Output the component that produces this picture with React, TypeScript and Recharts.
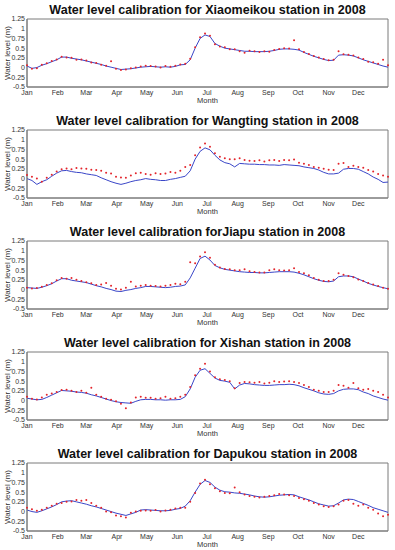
import React from 'react';
import {
  ComposedChart,
  Line,
  XAxis,
  YAxis,
  ReferenceArea,
} from 'recharts';

// day of year (2008), sampled every 5 days
const DAYS = [
  1, 6, 11, 16, 21, 26, 31, 36, 41, 46, 51, 56, 61, 66, 71, 76, 81, 86, 91, 96,
  101, 106, 111, 116, 121, 126, 131, 136, 141, 146, 151, 156, 161, 166, 171, 176, 181, 186, 191, 196,
  201, 206, 211, 216, 221, 226, 231, 236, 241, 246, 251, 256, 261, 266, 271, 276, 281, 286, 291, 296,
  301, 306, 311, 316, 321, 326, 331, 336, 341, 346, 351, 356, 361, 366,
];

const MONTH_TICKS = [1, 32, 61, 92, 122, 153, 183, 214, 245, 275, 306, 336];
const MONTH_LABELS = ['Jan', 'Feb', 'Mar', 'Apr', 'May', 'Jun', 'Jul', 'Aug', 'Sep', 'Oct', 'Nov', 'Dec'];
const Y_TICKS = [-0.5, -0.25, 0, 0.25, 0.5, 0.75, 1, 1.25];

const XIAOMEIKOU_SIM = [
  0.04, -0.02, 0.0, 0.06, 0.1, 0.15, 0.2,
  0.27, 0.27, 0.24, 0.22, 0.2,
  0.17, 0.14, 0.11, 0.08, 0.04, 0.01, -0.02,
  -0.05, -0.04, -0.03, -0.01, 0.01, 0.02,
  0.03, 0.02, 0.01, 0.02, 0.01, 0.03,
  0.07, 0.08, 0.2, 0.5, 0.75, 0.84,
  0.8, 0.62, 0.55, 0.5, 0.48, 0.46,
  0.44, 0.42, 0.42, 0.41, 0.41, 0.41,
  0.42, 0.44, 0.47, 0.48, 0.48, 0.47,
  0.45, 0.39, 0.34, 0.29, 0.25, 0.21,
  0.18, 0.19, 0.32, 0.33, 0.32, 0.3,
  0.25, 0.2, 0.16, 0.12, 0.08, 0.04, 0.01,
];
const XIAOMEIKOU_OBS = [
  0.06, -0.03, -0.02, 0.07, 0.11, 0.17, 0.21,
  0.28, 0.26, 0.25, 0.2, 0.21,
  0.18, 0.13, 0.12, 0.07, 0.05, 0.16, -0.03,
  -0.06, -0.05, -0.02, 0.0, 0.03, 0.05,
  0.04, 0.03, 0.0, 0.04, 0.02, 0.05,
  0.08, 0.1, 0.23, 0.52, 0.78, 0.88,
  0.82, 0.6, 0.54, 0.52, 0.47, 0.47,
  0.42, 0.38, 0.43, 0.42, 0.4, 0.42,
  0.41, 0.45, 0.48, 0.5, 0.49, 0.7,
  0.47, 0.4, 0.35, 0.3, 0.26, 0.22,
  0.19, 0.2, 0.42, 0.34, 0.33, 0.31,
  0.26, 0.22, 0.15, 0.14, 0.1, 0.2, 0.06,
];

const WANGTING_SIM = [
  0.0, -0.05, -0.15, -0.08, -0.03, 0.06, 0.14,
  0.2, 0.21, 0.18, 0.16, 0.15,
  0.12, 0.1, 0.08, 0.02, -0.03, -0.08, -0.12,
  -0.15, -0.12, -0.08, -0.05, -0.03, 0.0,
  -0.02, -0.03, -0.05, -0.05, -0.02, 0.0,
  0.03, 0.06, 0.2, 0.5, 0.7, 0.79,
  0.74, 0.6, 0.48, 0.41, 0.38, 0.3,
  0.39, 0.38, 0.37, 0.37, 0.36, 0.36,
  0.35, 0.35, 0.34, 0.36, 0.35, 0.34,
  0.33, 0.3, 0.28, 0.26, 0.22, 0.16,
  0.12, 0.12, 0.14, 0.24, 0.26, 0.26,
  0.24, 0.18, 0.12, 0.04, -0.02, -0.1, -0.09,
];
const WANGTING_OBS = [
  0.09, 0.05, 0.0, -0.08, 0.02, 0.1, 0.18,
  0.24, 0.26, 0.24, 0.27, 0.26,
  0.25, 0.23, 0.22, 0.2, 0.15, 0.13, 0.05,
  0.03, 0.02, 0.08, 0.14, 0.15, 0.12,
  0.1, 0.14, 0.12, 0.13, 0.17, 0.15,
  0.2, 0.3, 0.35, 0.6, 0.8, 0.9,
  0.82, 0.65, 0.56, 0.52, 0.5, 0.5,
  0.52, 0.48, 0.46, 0.45, 0.47, 0.44,
  0.47, 0.48, 0.45, 0.48, 0.47, 0.49,
  0.41, 0.38, 0.35, 0.3, 0.28, 0.25,
  0.23, 0.22, 0.38, 0.4, 0.3, 0.33,
  0.3, 0.28, 0.22, 0.18, 0.12, 0.08, 0.05,
];

const JIAPU_SIM = [
  0.05, 0.04, 0.03, 0.06, 0.1, 0.15, 0.22,
  0.28, 0.28, 0.24, 0.22, 0.2,
  0.18, 0.14, 0.1, 0.07, 0.03, 0.0, -0.04,
  -0.05, -0.02, 0.0, 0.03, 0.05, 0.08,
  0.08, 0.07, 0.06, 0.05, 0.06, 0.08,
  0.09, 0.12, 0.3, 0.55, 0.8, 0.86,
  0.76, 0.62, 0.56, 0.52, 0.5, 0.48,
  0.46, 0.45, 0.44, 0.44, 0.43, 0.43,
  0.44, 0.45, 0.46, 0.46, 0.46, 0.45,
  0.42, 0.38, 0.33, 0.28, 0.24, 0.21,
  0.2, 0.22, 0.33, 0.35, 0.35, 0.33,
  0.27, 0.22, 0.16, 0.12, 0.08, 0.05, 0.02,
];
const JIAPU_OBS = [
  0.05, 0.03, 0.04, 0.07, 0.12, 0.16, 0.24,
  0.3, 0.28, 0.3, 0.25, 0.22,
  0.19, 0.16, 0.12, 0.13, 0.17, 0.1, 0.02,
  0.0, 0.05, 0.2, 0.08, 0.1, 0.12,
  0.1, 0.09, 0.08, 0.1, 0.12, 0.15,
  0.14, 0.2, 0.7, 0.68, 0.85, 0.96,
  0.82, 0.64, 0.57, 0.53, 0.52, 0.5,
  0.5, 0.52, 0.47, 0.45, 0.44, 0.44,
  0.5, 0.52, 0.5, 0.49, 0.5, 0.55,
  0.45, 0.42, 0.37, 0.3, 0.25, 0.22,
  0.22, 0.25, 0.42, 0.38, 0.35, 0.32,
  0.26, 0.22, 0.17, 0.13, 0.09, 0.05, 0.02,
];

const XISHAN_SIM = [
  0.06, 0.04, 0.02, 0.03, 0.08, 0.14, 0.2,
  0.26, 0.25, 0.24, 0.22, 0.21,
  0.19, 0.15, 0.12, 0.08, 0.04, 0.0, -0.03,
  -0.05, -0.06, -0.07, -0.02, 0.02, 0.03,
  0.03, 0.02, 0.02, 0.01, 0.02, 0.02,
  0.03, 0.1, 0.3, 0.6, 0.78, 0.82,
  0.7, 0.58, 0.52, 0.5, 0.47, 0.3,
  0.4, 0.44, 0.43, 0.41, 0.4, 0.39,
  0.39, 0.4, 0.41, 0.41, 0.42, 0.41,
  0.38, 0.33, 0.29, 0.25, 0.2, 0.17,
  0.16, 0.18, 0.25, 0.29, 0.3, 0.3,
  0.28, 0.22, 0.18, 0.12, 0.08, 0.04, 0.01,
];
const XISHAN_OBS = [
  0.1, 0.05, 0.03, 0.08, 0.15, 0.18, 0.22,
  0.27, 0.28, 0.25, 0.22, 0.25,
  0.2, 0.33, 0.15, 0.1, 0.05, 0.02, -0.02,
  -0.08, -0.2, -0.05, 0.08, 0.1, 0.07,
  0.07, 0.05, 0.06, 0.1, 0.05, 0.06,
  0.1, 0.15, 0.35, 0.65, 0.82, 0.95,
  0.75, 0.6, 0.55, 0.53, 0.5, 0.32,
  0.45, 0.48, 0.47, 0.46, 0.48, 0.44,
  0.46, 0.5, 0.48, 0.49, 0.5, 0.48,
  0.45, 0.4, 0.35, 0.28, 0.25, 0.22,
  0.22, 0.25, 0.4, 0.38, 0.33, 0.45,
  0.32, 0.28, 0.3, 0.25, 0.22, 0.15, 0.08,
];

const DAPUKOU_SIM = [
  0.04, 0.0, -0.02, 0.02, 0.07, 0.12, 0.18,
  0.25, 0.27, 0.28, 0.25, 0.22,
  0.19, 0.15, 0.12, 0.08, 0.04, 0.0, -0.04,
  -0.07, -0.1, -0.06, -0.02, 0.04, 0.05,
  0.04, 0.03, 0.02, 0.02, 0.03, 0.06,
  0.08, 0.14, 0.28, 0.5, 0.7, 0.8,
  0.75, 0.63, 0.55, 0.51, 0.5, 0.48,
  0.47, 0.45, 0.43, 0.4, 0.38, 0.37,
  0.38, 0.4, 0.42, 0.43, 0.44, 0.43,
  0.38, 0.34, 0.3, 0.25, 0.2, 0.17,
  0.14, 0.15, 0.22, 0.3, 0.32, 0.31,
  0.26, 0.21, 0.16, 0.1, 0.06, 0.02, -0.02,
];
const DAPUKOU_OBS = [
  0.1, 0.06, 0.02, 0.05, 0.1, 0.15, 0.2,
  0.22, 0.25, 0.26, 0.3, 0.28,
  0.3, 0.22, 0.15, 0.1, 0.0, -0.02, -0.1,
  -0.12, -0.15, -0.03, 0.0, 0.02, 0.03,
  0.02, 0.04, 0.0, 0.03, 0.05, 0.08,
  0.1, 0.1, 0.25, 0.48, 0.72, 0.82,
  0.7, 0.6, 0.52, 0.48, 0.47, 0.62,
  0.5, 0.44, 0.4, 0.38, 0.36, 0.38,
  0.4, 0.42, 0.45, 0.44, 0.42, 0.4,
  0.35, 0.32, 0.28, 0.22, 0.18, 0.14,
  0.12, 0.14, 0.18, 0.28, 0.3, 0.2,
  0.15, 0.18, 0.1, 0.05, -0.05, -0.12, -0.08,
];

const STATIONS = [
  { title: 'Water level calibration for Xiaomeikou station in 2008', sim: XIAOMEIKOU_SIM, obs: XIAOMEIKOU_OBS },
  { title: 'Water level calibration for Wangting station in 2008', sim: WANGTING_SIM, obs: WANGTING_OBS },
  { title: 'Water level calibration forJiapu station in 2008', sim: JIAPU_SIM, obs: JIAPU_OBS },
  { title: 'Water level calibration for Xishan station in 2008', sim: XISHAN_SIM, obs: XISHAN_OBS },
  { title: 'Water level calibration for Dapukou station in 2008', sim: DAPUKOU_SIM, obs: DAPUKOU_OBS },
];

const FONT = '"Liberation Sans", Arial, sans-serif';
const AXIS = '#7a7a7a';
const TICK = { fill: '#333', fontSize: 7, fontFamily: FONT };

// plot box inside each 395x111 panel
const PLOT_LEFT = 27;
const PLOT_RIGHT = 388;
const PLOT_TOP = 19;
const PLOT_BOTTOM = 87;

function fmtY(v: number) {
  return String(v);
}

function fmtMonth(v: number) {
  return MONTH_LABELS[MONTH_TICKS.indexOf(v)] ?? '';
}

function YLabel() {
  const cx = 7.5;
  const cy = (PLOT_TOP + PLOT_BOTTOM) / 2;
  return (
    <text
      x={cx}
      y={cy}
      transform={`rotate(-90 ${cx} ${cy})`}
      textAnchor="middle"
      dominantBaseline="central"
      fontSize={8}
      fontFamily={FONT}
      fill="#333"
    >
      Water level (m)
    </text>
  );
}

function XLabel() {
  return (
    <text
      x={(PLOT_LEFT + PLOT_RIGHT) / 2}
      y={PLOT_BOTTOM + 13}
      textAnchor="middle"
      dominantBaseline="central"
      fontSize={7.5}
      fontFamily={FONT}
      fill="#333"
    >
      Month
    </text>
  );
}

function StationPanel({ title, sim, obs }: { title: string; sim: number[]; obs: number[] }) {
  const data = DAYS.map((day, i) => ({ day, sim: sim[i], obs: obs[i] }));
  return (
    <div style={{ position: 'relative', width: 395, height: 111 }}>
      <div
        style={{
          position: 'absolute',
          left: PLOT_LEFT,
          width: PLOT_RIGHT - PLOT_LEFT,
          top: 3,
          textAlign: 'center',
          fontFamily: FONT,
          fontWeight: 'bold',
          fontSize: 12.5,
          lineHeight: '14px',
          color: '#111',
          whiteSpace: 'nowrap',
        }}
      >
        {title}
      </div>
      <ComposedChart
        width={395}
        height={111}
        data={data}
        margin={{ top: PLOT_TOP, right: 395 - PLOT_RIGHT, left: 0, bottom: 0 }}
      >
        <XAxis
          dataKey="day"
          type="number"
          domain={[1, 366]}
          ticks={MONTH_TICKS}
          tickFormatter={fmtMonth}
          tick={TICK}
          tickLine={false}
          tickSize={0}
          tickMargin={3}
          stroke={AXIS}
          height={111 - PLOT_BOTTOM}
          interval={0}
          label={<XLabel />}
        />
        <YAxis
          type="number"
          domain={[-0.5, 1.25]}
          ticks={Y_TICKS}
          tickFormatter={fmtY}
          tick={TICK}
          tickLine={false}
          tickSize={0}
          tickMargin={2}
          stroke={AXIS}
          width={PLOT_LEFT}
          interval={0}
          label={<YLabel />}
        />
        <ReferenceArea x1={1} x2={366} y1={-0.5} y2={1.25} fill="none" stroke={AXIS} strokeWidth={1} ifOverflow="visible" />
        <Line
          dataKey="sim"
          type="linear"
          stroke="#3a46c8"
          strokeWidth={1}
          dot={false}
          isAnimationActive={false}
        />
        <Line
          dataKey="obs"
          type="linear"
          stroke="none"
          dot={{ r: 1, fill: '#e3242b', stroke: 'none' }}
          isAnimationActive={false}
        />
      </ComposedChart>
    </div>
  );
}

export default function App() {
  return (
    <div style={{ position: 'absolute', left: 0, top: 0, width: 395, height: 550, background: '#fff' }}>
      {STATIONS.map(s => (
        <StationPanel key={s.title} title={s.title} sim={s.sim} obs={s.obs} />
      ))}
    </div>
  );
}
